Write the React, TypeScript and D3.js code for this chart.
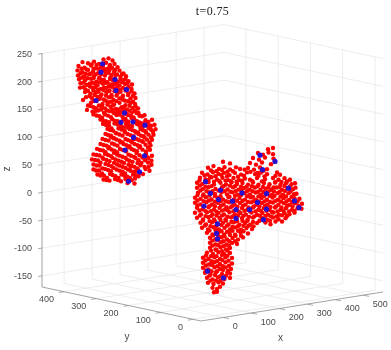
import React from "react";
import * as d3 from "d3";

const xTicks = [0, 100, 200, 300, 400, 500];
const yTicks = [0, 100, 200, 300, 400];
const zTicks = [-150, -100, -50, 0, 50, 100, 150, 200, 250];
const xLimits: [number, number] = [-79, 571];
const yLimits: [number, number] = [-25, 468];
const zLimits: [number, number] = [-170, 251];

// Surface samples as [x, z]; depth is not readable, so they sit on one view plane.
const upperBodyRed: [number, number][] = [
[28,243],[38,245],[46,241],
[-14,238],[-3,236],[9,239],[19,235],[33,237],[50,235],[41,233],
[-22,231],[-10,228],[3,232],[13,227],[23,229],[35,226],[45,228],[56,229],
[-24,223],[-14,220],[-3,224],[7,221],[17,218],[27,223],[38,219],[49,221],[60,223],[68,218],
[-23,214],[-11,212],[-1,216],[9,213],[20,210],[31,214],[42,211],[52,215],[62,212],[73,213],
[-21,207],[-9,205],[3,208],[14,203],[25,206],[36,202],[46,206],[57,203],[68,206],[78,204],
[-18,200],[-6,197],[5,201],[16,196],[27,199],[39,195],[49,199],[60,196],[71,199],[85,198],
[-19,192],[-8,189],[6,192],[17,188],[29,192],[40,187],[50,191],[61,188],[73,190],[84,190],
[-9,184],[2,181],[13,184],[24,180],[34,184],[44,179],[56,182],[67,178],[78,182],[90,182],
[-7,175],[5,173],[16,176],[28,171],[39,175],[48,170],[60,173],[71,169],[82,173],[92,174],
[-13,170],[3,165],[14,168],[26,163],[37,166],[49,162],[60,165],[72,161],[82,165],[91,163],
[-3,160],[8,157],[19,160],[31,155],[42,158],[53,154],[64,157],[75,153],[86,156],[97,155],
[-5,152],[6,149],[17,151],[29,147],[41,150],[52,146],[62,149],[74,145],[85,148],[98,147],
[8,144],[20,141],[31,144],[43,139],[54,143],[66,140],[77,143],[88,139],[100,142],[110,143],
[22,135],[33,132],[45,136],[56,132],[68,135],[78,131],[90,135],[100,130],[112,134],[125,135],
[27,127],[39,124],[50,128],[62,124],[73,127],[85,123],[95,127],[106,122],[117,126],[130,126],
[36,118],[47,115],[58,119],[70,115],[80,118],[91,114],[102,118],[112,114],[123,117],[132,118],
[32,109],[43,106],[54,110],[66,106],[76,109],[88,105],[98,109],[108,105],[118,108],[128,108],
[26,100],[38,97],[49,101],[60,97],[72,100],[83,96],[94,100],[105,96],[115,99],[125,99],
[22,91],[34,88],[45,92],[56,88],[68,91],[80,87],[90,91],[101,87],[112,90],[122,89],
[15,82],[27,79],[38,83],[50,79],[61,82],[73,78],[84,82],[95,78],[106,81],[121,81],
[8,72],[20,70],[31,73],[43,69],[55,72],[66,68],[78,72],[89,68],[100,71],[113,74],[125,70],
[5,63],[17,61],[28,64],[40,60],[52,63],[64,59],[75,63],[86,59],[98,62],[111,62],[124,61],
[8,54],[20,52],[32,55],[44,51],[55,54],[66,50],[78,54],[90,50],[102,53],[124,54],
[8,45],[19,43],[31,46],[43,42],[54,45],[66,41],[77,45],[88,41],[112,46],[120,43],
[16,36],[29,34],[41,37],[52,33],[64,36],[76,32],[87,36],[98,33],[107,37],
[28,27],[40,25],[51,28],[63,24],[72,28],[84,26],[91,29],
[76,21],[90,20],
];

const upperBodyRedInner: [number, number][] = [
[4,234],[27,231],[-16,226],[8,226],[30,225],[51,224],
[-18,218],[2,217],[23,216],[44,215],[65,217],
[-15,210],[-4,209],[19,209],[41,208],[62,208],
[-12,201],[11,200],[33,201],[54,200],[76,201],
[-12,193],[11,193],[34,192],[55,193],[78,194],
[-3,186],[18,185],[39,186],[62,185],[84,186],
[0,177],[22,177],[44,176],[66,176],[87,178],
[9,168],[32,169],[54,168],[77,168],
[2,159],[25,159],[47,160],[69,158],[92,159],
[11,150],[35,151],[57,150],[80,151],
[14,142],[37,142],[60,144],[83,142],[105,141],
[27,133],[50,133],[73,133],[95,132],[118,131],
[33,125],[56,126],[79,125],[100,124],[123,124],
[41,116],[64,117],[86,116],[107,116],[127,113],
[37,107],[60,108],[82,107],[103,106],[123,103],
[32,98],[54,99],[77,98],[99,98],[120,94],
[28,89],[50,90],[74,89],[96,89],[117,85],
[21,80],[44,81],[67,80],[89,80],[113,78],
[14,71],[37,71],[60,70],[83,70],[106,67],[118,66],
[11,62],[34,62],[58,61],[80,61],[104,57],[117,58],
[14,52],[38,53],[60,52],[84,52],[96,47],[110,50],
[13,43],[37,44],[60,43],[82,43],[100,38],
[22,34],[46,35],[70,34],[92,35],
[34,26],[57,26],[80,27],
];

const upperBodyRedGaps: [number, number][] = [
[14,233],[40,231],[-6,225],[18,226],[40,224],
[-8,217],[12,216],[33,219],[55,216],
[8,209],[29,206],[51,209],[72,208],
[0,199],[21,202],[43,198],[65,202],
[1,194],[23,190],[45,194],[67,192],
[8,187],[28,188],[50,186],[72,187],
[10,179],[33,178],[54,178],[77,179],
[20,172],[43,167],[66,171],[87,167],
[13,155],[36,162],[58,153],[80,160],
[23,153],[46,152],[68,153],[91,151],
[25,138],[48,147],[72,136],[94,147],
[39,130],[62,129],[84,138],[106,128],
[44,119],[67,121],[90,130],[111,129],
[52,111],[75,121],[97,112],[118,120],
[48,102],[71,112],[93,112],[113,112],
[43,103],[66,94],[88,100],[110,103],
[39,85],[62,94],[85,94],[107,95],
[32,76],[55,76],[78,85],[100,85],
[26,66],[49,75],[72,66],[94,75],[115,68],
[22,57],[46,66],[69,57],[92,66],[118,50],
[26,47],[49,57],[72,48],[96,57],
[25,38],[48,48],[71,38],[82,50],[92,42],
[35,30],[58,30],[81,30],
];

const lowerBodyRed: [number, number][] = [
[357,83],[367,85],
[337,76],[347,73],[358,77],[367,74],
[327,67],[339,64],[351,68],[368,66],
[267,60],[281,57],[321,58],[333,55],[345,59],[363,56],
[237,49],[248,52],[259,47],[270,50],[281,46],[293,50],[301,47],[317,49],[329,46],[341,50],[355,47],
[225,40],[236,37],[247,41],[258,38],[269,40],[280,36],[291,40],[303,37],[315,41],[331,38],[343,41],[355,38],[375,41],[381,37],
[221,31],[232,28],[244,32],[255,28],[266,31],[277,27],[288,31],[299,27],[311,30],[321,28],[335,31],[351,29],[367,31],[378,28],[390,31],[401,28],
[215,22],[226,20],[238,23],[249,19],[262,22],[273,19],[284,23],[295,20],[306,22],[317,19],[327,23],[338,19],[349,22],[360,20],[371,23],[382,19],[393,22],[404,20],[411,22],
[215,13],[227,11],[238,14],[252,11],[265,14],[276,10],[287,14],[298,10],[309,13],[320,10],[331,14],[342,10],[352,12],[363,10],[374,14],[385,10],[396,13],[407,11],[412,14],
[217,4],[228,1],[239,5],[251,2],[264,5],[275,1],[286,5],[297,1],[310,4],[321,1],[332,5],[343,1],[354,5],[365,1],[376,4],[387,1],[398,4],[409,2],[414,3],
[211,-5],[222,-7],[233,-4],[244,-8],[256,-5],[267,-8],[278,-4],[289,-8],[300,-5],[311,-8],[322,-4],[333,-8],[344,-5],[355,-8],[366,-4],[377,-8],[388,-5],[399,-8],[410,-5],[420,-6],
[211,-14],[222,-17],[234,-13],[245,-17],[257,-14],[268,-17],[279,-13],[290,-17],[301,-14],[312,-17],[323,-13],[334,-17],[345,-14],[356,-17],[367,-13],[378,-17],[389,-14],[400,-17],[411,-14],[425,-15],
[215,-23],[226,-26],[238,-22],[249,-26],[260,-23],[271,-26],[282,-22],[294,-26],[305,-23],[316,-26],[327,-22],[338,-26],[349,-23],[360,-26],[371,-22],[382,-26],[393,-23],[405,-26],[416,-23],[424,-24],
[211,-32],[223,-35],[235,-31],[246,-35],[258,-32],[269,-35],[280,-31],[291,-35],[302,-32],[313,-35],[324,-31],[335,-35],[346,-32],[357,-35],[368,-31],[379,-35],[390,-32],[400,-34],[410,-31],
[215,-41],[227,-44],[238,-40],[249,-44],[260,-41],[272,-44],[283,-40],[294,-44],[305,-41],[316,-44],[327,-40],[345,-41],[356,-44],[367,-40],[378,-43],[392,-41],
[222,-50],[233,-53],[245,-49],[256,-53],[267,-50],[278,-53],[289,-49],[300,-53],[311,-50],[322,-53],[335,-50],[352,-49],[362,-52],
[225,-59],[237,-62],[248,-58],[259,-62],[270,-59],[281,-62],[292,-58],[303,-62],[314,-59],[325,-61],
[235,-68],[246,-71],[258,-67],[269,-71],[280,-68],[291,-71],[302,-67],[317,-69],
[241,-77],[252,-80],[264,-76],[275,-80],[286,-77],[297,-80],[307,-76],
[241,-86],[252,-89],[263,-85],[274,-89],[285,-86],[295,-88],
[241,-95],[252,-98],[262,-94],[273,-98],[281,-95],
[235,-104],[247,-106],[258,-103],[269,-106],[281,-104],
[227,-113],[238,-115],[250,-112],[261,-115],[272,-112],[285,-113],
[227,-122],[239,-125],[250,-121],[261,-124],[272,-121],[285,-123],
[227,-131],[238,-134],[250,-130],[261,-133],[272,-130],[283,-133],
[231,-140],[242,-143],[253,-139],[265,-142],[276,-139],[281,-141],
[235,-149],[246,-152],[257,-148],[270,-151],[281,-149],
[237,-158],[248,-160],[258,-157],[267,-159],
[246,-167],[255,-169],[261,-165],
[249,-175],[255,-174],
];

const lowerBodyRedInner: [number, number][] = [
[243,44],[265,45],[287,43],[322,42],[348,44],
[230,35],[252,34],[275,34],[297,33],[338,35],[372,35],
[220,26],[238,27],[260,25],[283,25],[305,26],[345,25],[384,24],[395,25],
[221,17],[244,16],[268,16],[291,16],[314,15],[336,16],[358,15],[380,15],[401,16],
[222,8],[246,7],[270,7],[292,7],[315,7],[337,6],[358,7],[380,6],[402,7],
[216,0],[240,-1],[262,-2],[291,-1],[315,-2],[338,-2],[360,-1],[382,-2],[404,-3],
[216,-10],[239,-10],[262,-11],[284,-11],[306,-10],[328,-11],[350,-11],[372,-10],[394,-11],[416,-11],
[216,-19],[240,-20],[263,-19],[285,-20],[307,-19],[329,-20],[351,-19],[373,-20],[395,-19],[418,-19],
[220,-28],[243,-29],[265,-28],[288,-29],[310,-28],[332,-29],[354,-28],[376,-29],[399,-29],
[221,-37],[243,-38],[265,-37],[287,-38],[308,-37],[330,-38],[352,-37],[374,-38],[395,-37],
[227,-46],[251,-47],[273,-46],[295,-47],[316,-46],[340,-46],[361,-46],[385,-47],
[231,-55],[253,-56],[275,-55],[297,-56],[318,-55],
[240,-64],[264,-65],[286,-64],[308,-65],
[247,-73],[270,-74],[292,-73],[303,-73],
[246,-82],[268,-83],[291,-83],
[246,-91],[268,-92],[279,-91],
[243,-100],[265,-101],[276,-100],
[233,-109],[254,-110],[276,-109],
[232,-118],[255,-119],[278,-118],
[233,-127],[256,-128],[279,-127],
[233,-136],[255,-137],[277,-136],
[240,-145],[262,-146],[273,-145],
[242,-154],[262,-154],
];

const lowerBodyRedGaps: [number, number][] = [
[254,43],[276,42],[336,40],[310,46],
[241,33],[264,36],[309,35],[350,34],
[249,24],[272,26],[294,24],[326,25],[372,24],
[232,15],[281,17],[303,15],[325,16],[347,15],[368,14],[390,17],
[234,7],[258,8],[282,6],[304,8],[326,7],[348,6],[369,7],[391,8],
[227,-1],[251,-2],[280,-3],[303,0],[327,-3],[349,-2],[370,-1],[393,-2],
[228,-11],[251,-12],[273,-11],[295,-10],[317,-12],[339,-11],[361,-12],[383,-11],[405,-12],
[228,-21],[251,-20],[274,-22],[296,-21],[318,-22],[340,-20],[362,-21],[384,-22],[406,-20],
[232,-29],[254,-30],[276,-27],[299,-30],[321,-29],[343,-28],[365,-30],[388,-28],[410,-28],
[232,-38],[254,-37],[276,-39],[297,-37],[319,-39],[341,-37],[363,-38],[385,-36],
[240,-47],[262,-45],[284,-48],[306,-46],[327,-48],[350,-46],[372,-47],
[242,-56],[264,-54],[286,-57],[308,-55],[328,-56],
[252,-63],[275,-66],[297,-64],
[258,-74],[281,-72],
[257,-81],[280,-83],
[257,-90],
[254,-99],
[243,-110],[265,-108],
[244,-119],[266,-117],
[245,-126],[267,-128],
[244,-137],[267,-135],
[251,-144],
[253,-154],
];

const upperBodyBlue: [number, number][] = [
[26,235],[23,220],[51,207],[53,187],[74,189],[13,169],[70,147],[63,130],[87,131],[111,125],[88,103],[71,80],[110,70],[100,41],[78,24],
];
const lowerBodyBlue: [number, number][] = [
[341,72],[371,61],[346,46],[232,24],[242,3],[262,9],[258,-8],[305,4],[286,-11],[354,3],[336,-13],[354,-25],[320,-26],[398,13],[410,-10],[419,-22],[348,-44],[293,-42],[293,-26],[229,-20],[256,-52],[254,-69],[256,-79],[236,-137],[268,-149],
];

// Axis box as drawn on the page
const frontCorner = { sx: 201, sy: 321 };
const fx = d3.scaleLinear().domain(xLimits).range([0, 1]);
const fy = d3.scaleLinear().domain(yLimits).range([0, 1]);
const zPx = d3.scaleLinear().domain(zLimits).range([0, -234]);
const xSpanPx = { dx: 182, dy: -29 };
const ySpanPx = { dx: -159, dy: -34 };

function project(x: number, y: number, z: number): [number, number] {
  const a = fx(x), b = fy(y);
  return [
    frontCorner.sx + a * xSpanPx.dx + b * ySpanPx.dx,
    frontCorner.sy + a * xSpanPx.dy + b * ySpanPx.dy + zPx(z),
  ];
}
const planeDepth = (x: number) => 221.5 - 0.682 * (x - 246);

const [x0, x1] = xLimits, [y0, y1] = yLimits, [z0, z1] = zLimits;
const line = d3.line();
const GRID = "#ebebeb";
const AXIS = "#8a8a8a";
const TEXT = "#4a4a4a";
const SANS = "'Liberation Sans', Arial, sans-serif";

const seg = (a: [number, number, number], b: [number, number, number]) =>
  line([project(...a), project(...b)]) as string;

export default function App() {
  const grid: string[] = [];
  xTicks.forEach((t) => {
    grid.push(line([project(t, y0, z0), project(t, y1, z0), project(t, y1, z1)]) as string);
  });
  yTicks.forEach((t) => {
    grid.push(line([project(x0, t, z0), project(x1, t, z0), project(x1, t, z1)]) as string);
  });
  zTicks.forEach((t) => {
    grid.push(line([project(x0, y1, t), project(x1, y1, t), project(x1, y0, t)]) as string);
  });
  return (
    <svg
      width={391}
      height={350}
      viewBox="0 0 391 350"
      style={{ position: "absolute", left: 0, top: 0, background: "#fff", filter: "blur(0.35px)" }}
    >
      {grid.map((d, i) => (
        <path key={i} d={d} fill="none" stroke={GRID} strokeWidth={0.9} />
      ))}
      <path d={seg([x0, y1, z0], [x0, y1, z1])} stroke="#b0b0b0" strokeWidth={1.2} />
      <path d={seg([x0, y0, z0], [x1, y0, z0])} stroke={AXIS} strokeWidth={0.8} />
      <path d={seg([x0, y0, z0], [x0, y1, z0])} stroke={AXIS} strokeWidth={0.8} />

      {xTicks.map((t) => {
        const [sx, sy] = project(t, y0, z0);
        return (
          <g key={t}>
            <path d={`M${sx},${sy}L${sx + 6},${sy + 1.2}`} stroke={AXIS} strokeWidth={0.7} />
            <text x={sx + 9.7} y={sy + 11.5} fontFamily={SANS} fontSize={9} fill={TEXT}>{t}</text>
          </g>
        );
      })}
      {yTicks.map((t) => {
        const [sx, sy] = project(x0, t, z0);
        return (
          <g key={t}>
            <path d={`M${sx},${sy}L${sx - 5},${sy + 0.9}`} stroke={AXIS} strokeWidth={0.7} />
            <text x={sx - 9.8} y={sy + 10.7} textAnchor="end" fontFamily={SANS} fontSize={9} fill={TEXT}>{t}</text>
          </g>
        );
      })}
      {zTicks.map((t) => {
        const [sx, sy] = project(x0, y1, t);
        return (
          <g key={t}>
            <path d={`M${sx - 4},${sy + 0.6}L${sx},${sy}`} stroke={AXIS} strokeWidth={0.7} />
            <text x={32} y={sy + 3.2} textAnchor="end" fontFamily={SANS} fontSize={9} fill={TEXT}>{t}</text>
          </g>
        );
      })}
      <text x={280.5} y={341} textAnchor="middle" fontFamily={SANS} fontSize={10} fill={TEXT}>x</text>
      <text x={127} y={340} textAnchor="middle" fontFamily={SANS} fontSize={10} fill={TEXT}>y</text>
      <text x={0} y={0} transform="translate(10,169) rotate(-90)" textAnchor="middle" fontFamily={SANS} fontSize={10} fill={TEXT}>z</text>
      <text x={212.5} y={15} textAnchor="middle" fontFamily="'Liberation Serif', serif" fontSize={12} letterSpacing={0.4} fill="#222">t=0.75</text>

      {[upperBodyRed, upperBodyRedInner, upperBodyRedGaps, lowerBodyRed, lowerBodyRedInner, lowerBodyRedGaps].flat().map(([x, z], i) => {
        const [cx, cy] = project(x, planeDepth(x), z);
        return <circle key={i} cx={cx} cy={cy} r={2.2} fill="#ff0000" />;
      })}
      {[upperBodyBlue, lowerBodyBlue].flat().map(([x, z], i) => {
        const [cx, cy] = project(x, planeDepth(x), z);
        return <circle key={i} cx={cx} cy={cy} r={2.6} fill="#2a0fd0" />;
      })}
    </svg>
  );
}
